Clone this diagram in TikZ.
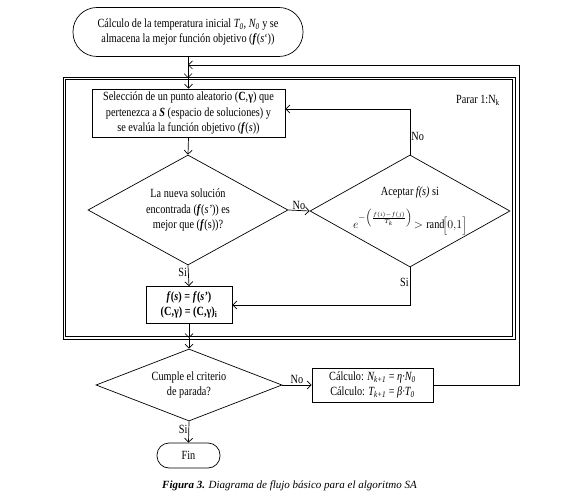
\documentclass[tikz,border=0pt]{standalone}
\usepackage{fontspec}
\setmainfont[FakeStretch=0.82]{Liberation Serif}
\newfontfamily\capfont{Liberation Serif}
\usetikzlibrary{shapes.geometric,arrows.meta}
\newcommand{\bfit}[1]{\textbf{\textit{#1}}}
\tikzset{
  base/.style={draw, line width=0.7pt, align=center, font=\fontsize{12.5}{15.5}\selectfont, inner sep=0pt},
  procbox/.style={base, rectangle},
  termbox/.style={base, rectangle, rounded corners=#1},
  decbox/.style={base, diamond, aspect=1.8},
  frameline/.style={draw, line width=0.75pt},
  arr/.style={line width=0.7pt, -{Straight Barb[length=4pt,width=8pt,line width=0.7pt]}},
  lbl/.style={font=\fontsize{12.5}{15}\selectfont, inner sep=1pt}
}
\begin{document}
\begin{tikzpicture}[x=1pt,y=-1pt]
\useasboundingbox (0,0) rectangle (580,502);
% frame (double line)
\coordinate (ftl) at (64,78);
\coordinate (fbr) at (514,338);
\draw[frameline] (63,77) rectangle (515,339);
\draw[frameline] (65.2,79.2) rectangle (512.8,336.8);
\node[lbl] (parar) at (478,100) {Parar 1:N\textsubscript{k}};
% nodes
\node[termbox=24pt, minimum width=230pt, minimum height=49pt] (start) at (188,32)
  {Cálculo de la temperatura inicial \textit{T\textsubscript{0}}, \textit{N\textsubscript{0}} y se\\
   almacena la mejor función objetivo (\bfit{f}(\textit{s}`))};
\node[procbox, minimum width=193pt, minimum height=48pt] (box1) at (188.5,113)
  {Selección de un punto aleatorio (\textbf{C},\textbf{γ}) que\\
   pertenezca a \bfit{S} (espacio de soluciones) y\\
   se evalúa la función objetivo (\bfit{f}(\textit{s}))};
\node[decbox, minimum width=200pt, minimum height=110pt] (d1) at (188,210)
  {La nueva solución\\ encontrada (\bfit{f}(\textit{s'})) es\\ mejor que (\bfit{f}(s))?};
\node[decbox, minimum width=200pt, minimum height=112pt] (d2) at (410,211)
  {Aceptar \textit{f(s)} si\\[10pt]
   $e^{-\left(\frac{f(i)-f(j)}{T_k}\right)}\!>\mbox{rand}\!\Big[0{,}1\Big]$};
\node[procbox, minimum width=86pt, minimum height=37pt] (box2) at (189,305)
  {\textbf{\textit{f}(\textit{s}) = \textit{f}(\textit{s'})}\\ \textbf{(C,γ) = (C,γ)\textsubscript{i}}};
\node[decbox, minimum width=186pt, minimum height=72pt] (d3) at (189,385)
  {Cumple el criterio\\ de parada?};
\node[procbox, minimum width=121pt, minimum height=34pt] (box3) at (372.5,385)
  {Cálculo: \textit{N\textsubscript{k+1}} = \textit{η·N\textsubscript{0}}\\
   Cálculo: \textit{T\textsubscript{k+1}} = \textit{β·T\textsubscript{0}}};
\node[termbox=12pt, minimum width=63pt, minimum height=25pt] (fin) at (188.5,455.5) {Fin};
\node[font=\capfont\fontsize{11}{13}\selectfont, inner sep=0pt] (cap) at (289.5,486)
  {\textbf{\textit{Figura 3.}} \textit{Diagrama de flujo básico para el algoritmo SA}};
% helper coordinates
\coordinate (rr) at (519,65);
\coordinate (nb) at (410,109);
% connectors
\draw[arr] (start.south) -- (start.south |- ftl);
\draw[arr] (box1.north |- ftl) -- (box1.north);
\draw[arr] (box3.east) -| (rr) -- (rr -| start.south);
\draw[arr] (box1.south) -- (d1.north);
\draw[arr] (d1.east) -- node[lbl, above] {No} (d2.west);
\draw[arr] (d2.north) -- node[lbl, right, pos=0.4] {No} (nb) -- (nb -| box1.east);
\draw[arr] (d1.south) -- node[lbl, left, pos=0.35] {Si} (box2.north);
\draw[arr] (d2.south) |- node[lbl, left, pos=0.2] {Si} (box2.east);
\draw[arr] (box2.south) -- (box2.south |- fbr);
\draw[arr] (d3.north |- fbr) -- (d3.north);
\draw[arr] (d3.east) -- node[lbl, above] {No} (box3.west);
\draw[arr] (d3.south) -- node[lbl, left, pos=0.4] {Si} (fin.north);
\end{tikzpicture}
\end{document}
